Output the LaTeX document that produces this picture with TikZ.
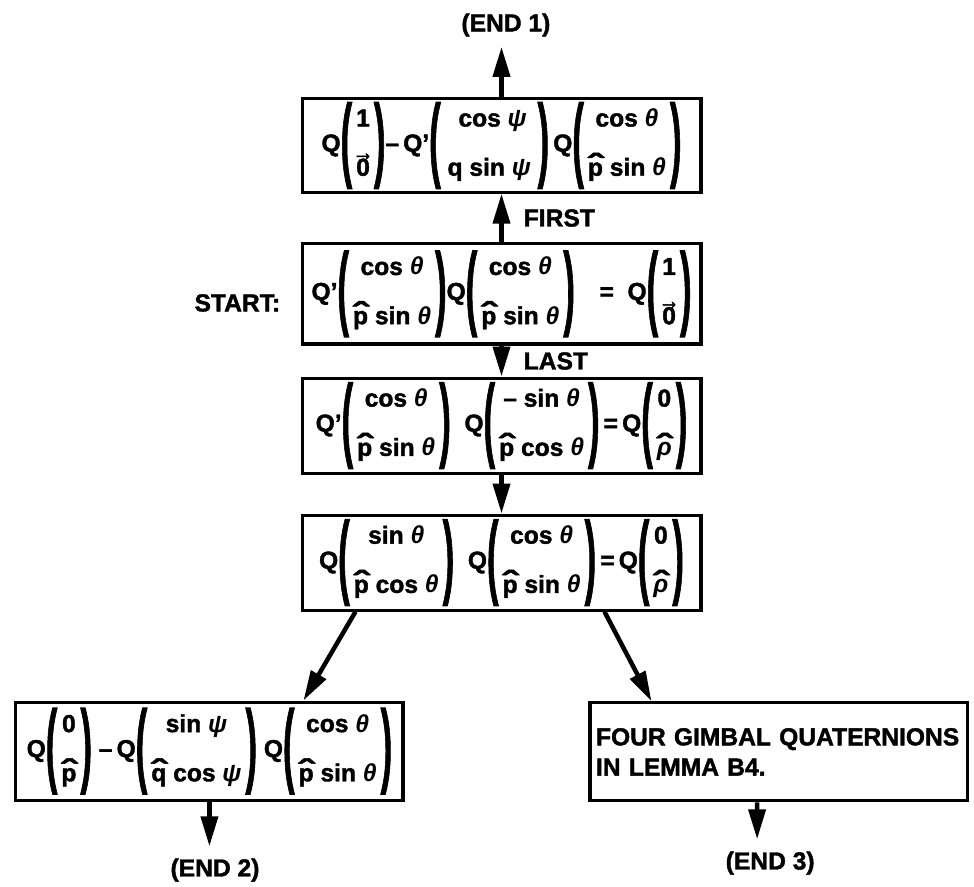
\documentclass[tikz,border=0pt]{standalone}
\usepackage{fontspec}
\setmainfont{Liberation Sans}[BoldFeatures={FakeBold=1.6}]
\usepackage{graphicx}
\usetikzlibrary{arrows.meta,positioning}

% column vector in heavy parentheses
\newcommand{\qcol}[2]{$\vcenter{\hbox{\scalebox{1.4}[3.75]{(}}}\vcenter{\hbox{\begin{tabular}{@{\,}c@{\,}}#1\\[15pt]#2\end{tabular}}}\vcenter{\hbox{\scalebox{1.4}[3.75]{)}}}$}
\newcommand{\hatover}[1]{\ooalign{#1\cr\hidewidth\scalebox{1.9}[1.25]{ˆ}\hidewidth\cr}}
\newcommand{\hatp}{\hatover{p}}
\newcommand{\hatq}{\hatover{q}}
\newcommand{\hatrho}{\hatover{\textit{ρ}}}
\newcommand{\vzero}{\ooalign{0\cr\hidewidth\raisebox{0.62em}{\scalebox{0.85}[1]{→}}\hidewidth\cr}}
\newcommand{\thet}{\textit{θ}}
\newcommand{\ps}{\textit{ψ}}

\begin{document}
\begin{tikzpicture}
  [x=0.025cm,y=-0.025cm,on grid,>={Triangle[length=7.5mm,width=4.2mm]},
   every node/.style={font=\fontsize{17.5}{20}\selectfont\bfseries},
   eqbox/.style={draw,line width=2.2pt,minimum width=9.97cm,minimum height=2.4cm,inner sep=1pt},
   flow/.style={->,line width=3.2pt},
   tag/.style={inner sep=0pt}]

  \useasboundingbox (0,0) rectangle (974,887);

  % the chain of equations
  \node [eqbox,minimum height=2.33cm] (q1) at (501.5,145.5)
    {Q\qcol{1}{\vzero}–\,Q’\qcol{\ \ cos \ps\ \ }{q sin \ps}\,Q\qcol{cos \thet}{\hatp\ sin \thet}};
  \node [eqbox,minimum height=2.5cm] (q2) [below=3.71cm of q1]
    {Q’\qcol{cos \thet}{\hatp\ sin \thet}Q\qcol{cos \thet}{\hatp\ sin \thet}\quad=\ \ Q\qcol{1}{\vzero}};
  \node [eqbox,minimum height=2.375cm] (q3) [below=3.29cm of q2]
    {Q’\qcol{cos \thet}{\hatp\ sin \thet}\ \ Q\qcol{– sin \thet}{\hatp\ cos \thet}\,=\,Q\qcol{0}{\hatrho}};
  \node [eqbox,minimum height=2.375cm] (q4) [below=3.425cm of q3]
    {Q\qcol{sin \thet}{\hatp\ cos \thet}\ \ Q\qcol{cos \thet}{\hatp\ sin \thet}\,=\,Q\qcol{0}{\hatrho}};
  \node [eqbox,minimum width=9.675cm,minimum height=2.45cm] (q5) [below left=4.71cm and 7.3cm of q4]
    {Q\qcol{0}{\hatp}\ –\,Q\qcol{sin \ps}{\hatq\ cos \ps}\ Q\qcol{cos \thet}{\hatp\ sin \thet}};
  \node [eqbox,minimum width=9.425cm,minimum height=2.45cm,text width=9.125cm,align=left,inner xsep=0.15cm,
         font=\fontsize{17.5}{21.5}\selectfont\bfseries] (gimbal) [below right=4.73cm and 6.925cm of q4]
    {FOUR GIMBAL QUATERNIONS\\IN LEMMA B4.};

  % labels
  \node [tag] (end1) [above=3.01cm of q1,xshift=0.11cm] {(END 1)};
  \node [tag] (end2) [below=2.975cm of q5,xshift=0.14cm] {(END 2)};
  \node [tag] (end3) [below=2.78cm of gimbal,xshift=-0.21cm] {(END 3)};
  \node [tag,anchor=east] (startlbl) at ([xshift=-0.5cm,yshift=-0.225cm]q2.west) {START:};

  % connectors
  \draw [flow] (q1.north) -- (q1.north |- end1.south) [shorten >=0.25cm];
  \draw [flow] (q2) -- (q1) node [tag,midway,anchor=west,xshift=0.5cm] {FIRST};
  \draw [flow] (q2) -- (q3) node [tag,midway,anchor=west,xshift=0.5cm] {LAST};
  \draw [flow] (q3) -- (q4);
  \draw [flow] ([xshift=1.375cm]q4.south west) -- ([xshift=-2.525cm]q5.north east);
  \draw [flow] ([xshift=-2.45cm]q4.south east) -- ([xshift=1.575cm]gimbal.north west);
  \draw [flow] (q5.south) -- (q5.south |- end2.north) [shorten >=0.3cm];
  \draw [flow] ([xshift=-0.5375cm]gimbal.south) -- ([xshift=-0.325cm]end3.north) [shorten >=0.3cm];
\end{tikzpicture}
\end{document}
